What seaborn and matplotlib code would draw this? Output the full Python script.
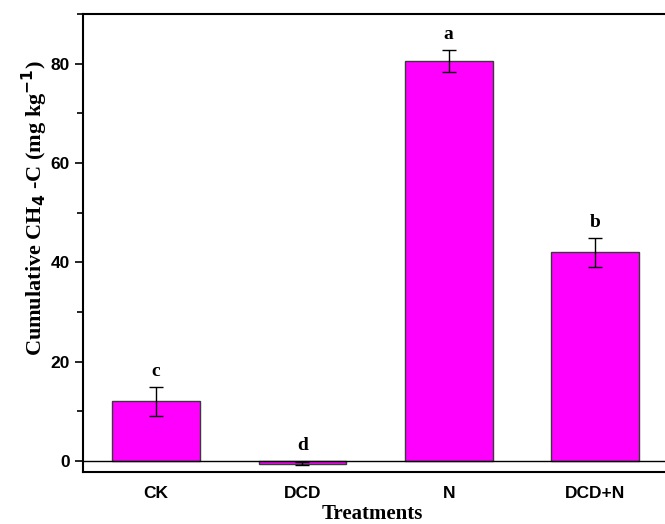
import matplotlib
matplotlib.use("Agg")
import matplotlib.pyplot as plt
from matplotlib.ticker import MultipleLocator
import seaborn as sns
import pandas as pd

treatments = ["CK", "DCD", "N", "DCD+N"]
cumulative_ch4 = [12.0, -0.5, 80.5, 42.0]
std_err = [3.0, 0.3, 2.2, 2.9]
letters = ["c", "d", "a", "b"]

sns.set_style("ticks")
plt.rcParams["font.family"] = ["Liberation Sans", "DejaVu Sans"]
plt.rcParams.update({"text.color": "black", "axes.labelcolor": "black",
                     "xtick.color": "black", "ytick.color": "black"})

df = pd.DataFrame({"Treatment": treatments, "CH4": cumulative_ch4})

fig = plt.figure(figsize=(6.65, 5.24), dpi=100)
ax = fig.add_axes([83 / 665, 52 / 524, 585 / 665, 458 / 524])

sns.barplot(data=df, x="Treatment", y="CH4", order=treatments,
            color="#FF00FF", saturation=1, width=0.6,
            edgecolor="#3a3a3a", linewidth=1.0, errorbar=None, ax=ax)

ax.errorbar(range(len(treatments)), cumulative_ch4, yerr=std_err,
            fmt="none", ecolor="black", elinewidth=1.0, capsize=5, capthick=1.0,
            zorder=5)

for i, (v, e, lab) in enumerate(zip(cumulative_ch4, std_err, letters)):
    top = max(v + e, 0)
    ax.text(i, top + 1.4, lab, ha="center", va="bottom",
            fontsize=14, fontweight="bold", family="Liberation Serif")

ax.axhline(0, color="black", linewidth=1.0, zorder=4)

ax.set_xlim(-0.5, 3.5)
ax.set_ylim(-2.2, 90)
ax.yaxis.set_major_locator(MultipleLocator(20))
ax.yaxis.set_minor_locator(MultipleLocator(10))
ax.tick_params(axis="y", which="major", length=6, width=1.2, direction="out",
               labelsize=12.5)
ax.tick_params(axis="y", which="minor", length=4, width=1.2, direction="out")
ax.tick_params(axis="x", length=0, labelsize=12.5, pad=10)
for t in ax.get_xticklabels() + ax.get_yticklabels():
    t.set_fontweight("bold")

for side in ["left", "bottom", "top"]:
    ax.spines[side].set_linewidth(1.5)
    ax.spines[side].set_color("black")
ax.spines["right"].set_visible(False)

ax.set_xlabel("Treatments", fontsize=15, fontweight="bold",
              family="Liberation Serif")
ax.xaxis.set_label_coords(0.495, -0.07)
ax.set_ylabel(r"Cumulative CH$_\mathbf{4}$ -C (mg kg$^\mathbf{-1}$)", fontsize=16,
              fontweight="bold", family="Liberation Serif")
ax.yaxis.set_label_coords(-0.056, 0.576)

fig.savefig("out.png", dpi=100)
